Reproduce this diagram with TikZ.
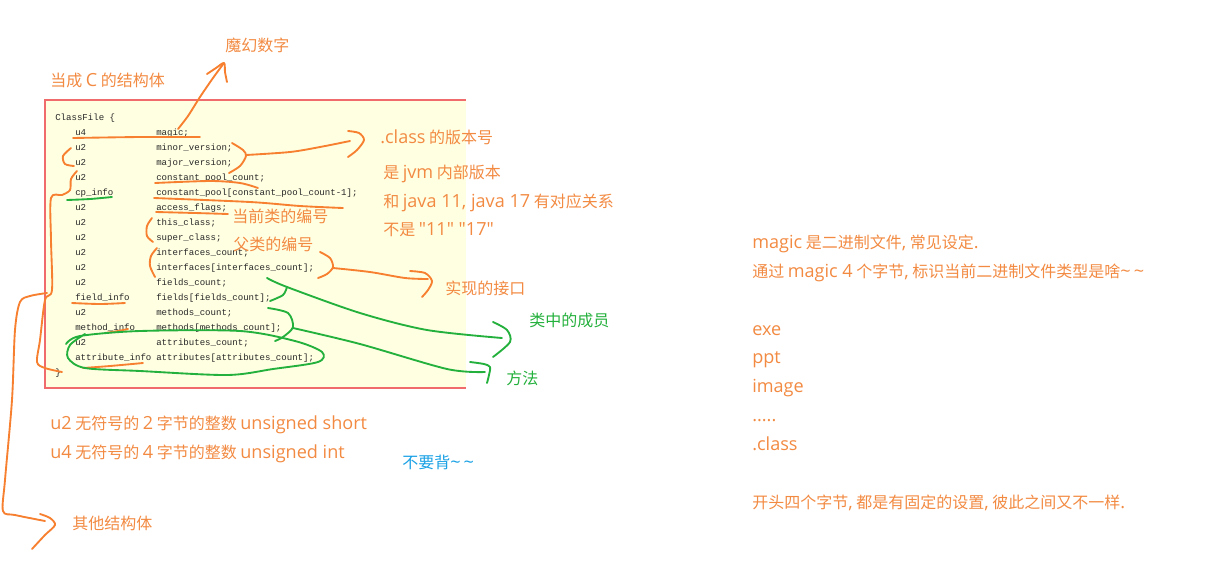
\documentclass[tikz,border=0pt]{standalone}
\usepackage{fontspec}
\newfontfamily\notefont{Noto Sans CJK SC}
\newfontfamily\latinfont[Scale=1.13]{Open Sans}
\newfontfamily\codefont{Liberation Mono}
\newcommand{\la}[1]{{\latinfont #1}}
\definecolor{penorange}{RGB}{247,128,48}
\definecolor{noteorange}{RGB}{242,138,66}
\definecolor{pengreen}{RGB}{36,176,60}
\definecolor{noteblue}{RGB}{24,160,228}
\definecolor{paper}{RGB}{255,255,226}
\definecolor{framered}{RGB}{240,108,108}
\definecolor{codegray}{RGB}{40,40,40}

\begin{document}
\begin{tikzpicture}[x=0.75pt, y=-0.75pt,
    note/.style={anchor=base west, inner sep=0pt, text=noteorange, font=\notefont\fontsize{12pt}{14pt}\selectfont},
    greennote/.style={note, text=pengreen},
    bluenote/.style={note, text=noteblue},
    code/.style={anchor=base west, inner sep=0pt, text=codegray, font=\codefont\fontsize{6.8pt}{8pt}\selectfont},
    orangepen/.style={draw=penorange, line width=1.4pt, line cap=round, line join=round},
    greenpen/.style={draw=pengreen, line width=1.4pt, line cap=round, line join=round}
  ]
  \useasboundingbox (0,0) rectangle (1224,565);

  % The ClassFile listing
  \fill[paper] (45,100) rectangle (466,388);
  \draw[framered, line width=0.8pt] (466,100) -- (45,100) -- (45,388) -- (466,388);
  \node[code] (head) at (55,120.5) {ClassFile \{};
  \foreach \row/\ty/\fd in {1/u4/magic;, 2/u2/minor\_version;, 3/u2/major\_version;,
      4/u2/constant\_pool\_count;, 5/cp\_info/constant\_pool[constant\_pool\_count-1];,
      6/u2/access\_flags;, 7/u2/this\_class;, 8/u2/super\_class;,
      9/u2/interfaces\_count;, 10/u2/interfaces[interfaces\_count];,
      11/u2/fields\_count;, 12/field\_info/fields[fields\_count];,
      13/u2/methods\_count;, 14/method\_info/methods[methods\_count];,
      15/u2/attributes\_count;, 16/attribute\_info/attributes[attributes\_count];} {
    \node[code] (ty\row) at (75,{135.5+15*(\row-1)}) {\ty};
    \node[code] (fd\row) at (156,{135.5+15*(\row-1)}) {\fd};
  }
  \node[code] (tail) at (55,375.5) {\}};

  % Notes round the listing
  \node[note] (magicnote) at (225,51) {魔幻数字};
  \node[note] (cstruct) at (50,86) {当成 \la{C} 的结构体};
  \node[note] (version) at (380,143) {\la{.class} 的版本号};
  \node[note] (jvm) at (383,178) {是 \la{jvm} 内部版本};
  \node[note] (javaver) at (383,207) {和 \la{java 11, java 17} 有对应关系};
  \node[note] (notnum) at (383,235) {不是 \la{"11" "17"}};
  \node[note] (thisnote) at (232,222) {当前类的编号};
  \node[note] (supernote) at (233,250) {父类的编号};
  \node[note] (ifacenote) at (445,294) {实现的接口};
  \node[greennote] (members) at (529,326) {类中的成员};
  \node[greennote] (methodnote) at (506,384) {方法};
  \node[note] (u2note) at (50,429) {\la{u2} 无符号的 \la{2} 字节的整数 \la{unsigned short}};
  \node[note] (u4note) at (50,458) {\la{u4} 无符号的 \la{4} 字节的整数 \la{unsigned int}};
  \node[bluenote] (skip) at (402,468) {不要背\la{\textasciitilde\,\textasciitilde}};
  \node[note] (others) at (72,529) {其他结构体};

  % Right column
  \node[note] (magic1) at (752,248) {\la{magic} 是二进制文件\la{,} 常见设定\la{.}};
  \node[note] (magic2) at (752,277) {通过 \la{magic 4} 个字节\la{,} 标识当前二进制文件类型是啥\la{\textasciitilde\,\textasciitilde}};
  \node[note] (exe) at (752,335) {\la{exe}};
  \node[note] (ppt) at (752,363) {\la{ppt}};
  \node[note] (image) at (752,392) {\la{image}};
  \node[note] (dots) at (752,421) {\la{.....}};
  \node[note] (classext) at (752,450) {\la{.class}};
  \node[note] (fixed) at (752,508) {开头四个字节\la{,} 都是有固定的设置\la{,} 彼此之间又不一样\la{.}};

  % Orange strokes
  \draw[orangepen] plot[smooth] coordinates {(178,129) (188,116) (200,97) (213,78) (224,63)};
  \draw[orangepen] plot[smooth] coordinates {(207,74) (216,68) (224,63) (225,72) (227,82)};
  \draw[orangepen] plot[smooth] coordinates {(73,138) (140,137) (200,137)};
  \draw[orangepen] plot[smooth] coordinates {(71,148) (63,156) (65,164) (74,166)};
  \draw[orangepen] plot[smooth] coordinates {(232,143) (243,150) (246,156) (240,166) (229,173)};
  \draw[orangepen] plot[smooth] coordinates {(246,155) (290,152) (320,147) (350,141)};
  \draw[orangepen] plot[smooth] coordinates {(348,131) (359,133) (364,140) (357,150) (348,157)};
  \draw[orangepen] plot[smooth] coordinates {(77,171) (71,179) (70,190) (62,195) (51,198)
      (51,240) (52,290) (45,300) (40,340) (37,362) (45,368) (62,372)};
  \draw[orangepen] plot[smooth] coordinates {(47,293) (30,296) (20,302) (15,330) (12,400)
      (5,480) (3,511) (15,515) (45,521)};
  \draw[orangepen] plot[smooth] coordinates {(40,514) (50,518) (55,525) (45,535) (32,549)};
  \draw[orangepen] plot[smooth] coordinates {(155,183) (210,181) (240,183) (258,188)};
  \draw[orangepen] plot[smooth] coordinates {(154,198) (250,202) (300,206) (343,208)};
  \draw[orangepen] plot[smooth] coordinates {(156,212) (195,213) (228,214)};
  \draw[orangepen] plot[smooth] coordinates {(152,218) (147,226) (147,236) (153,242)};
  \draw[orangepen] plot[smooth] coordinates {(157,248) (151,256) (150,266) (155,277)};
  \draw[orangepen] plot[smooth] coordinates {(320,252) (330,258) (333,267) (327,274) (318,278)};
  \draw[orangepen] plot[smooth] coordinates {(333,268) (370,272) (405,278) (428,279)};
  \draw[orangepen] plot[smooth] coordinates {(410,271) (425,273) (432,281) (428,290) (422,297)};
  \draw[orangepen] plot[smooth] coordinates {(72,303) (100,304) (125,303)};
  \draw[orangepen] plot[smooth] coordinates {(105,333) (118,331) (128,329)};
  \draw[orangepen] plot[smooth] coordinates {(83,368) (110,366) (143,363)};

  % Green strokes
  \draw[greenpen] plot[smooth] coordinates {(67,200) (90,199) (112,197)};
  \draw[greenpen] plot[smooth] coordinates {(267,278) (287,287) (360,313) (427,330) (502,338)};
  \draw[greenpen] plot[smooth] coordinates {(287,287) (283,295) (270,301)};
  \draw[greenpen] plot[smooth] coordinates {(493,322) (507,330) (510,342) (493,357)};
  \draw[greenpen] plot[smooth] coordinates {(268,308) (288,313) (293,327) (283,337) (275,341)};
  \draw[greenpen] plot[smooth] coordinates {(293,328) (360,344) (447,369) (485,372)};
  \draw[greenpen] plot[smooth] coordinates {(470,362) (484,364) (490,367) (489,375) (487,383)};
  \draw[greenpen] plot[smooth] coordinates {(66,344) (80,336) (140,331) (240,331) (295,341)
      (322,352) (318,362) (273,369) (227,375) (140,371) (85,368) (68,358) (70,345) (85,334)};
\end{tikzpicture}
\end{document}
